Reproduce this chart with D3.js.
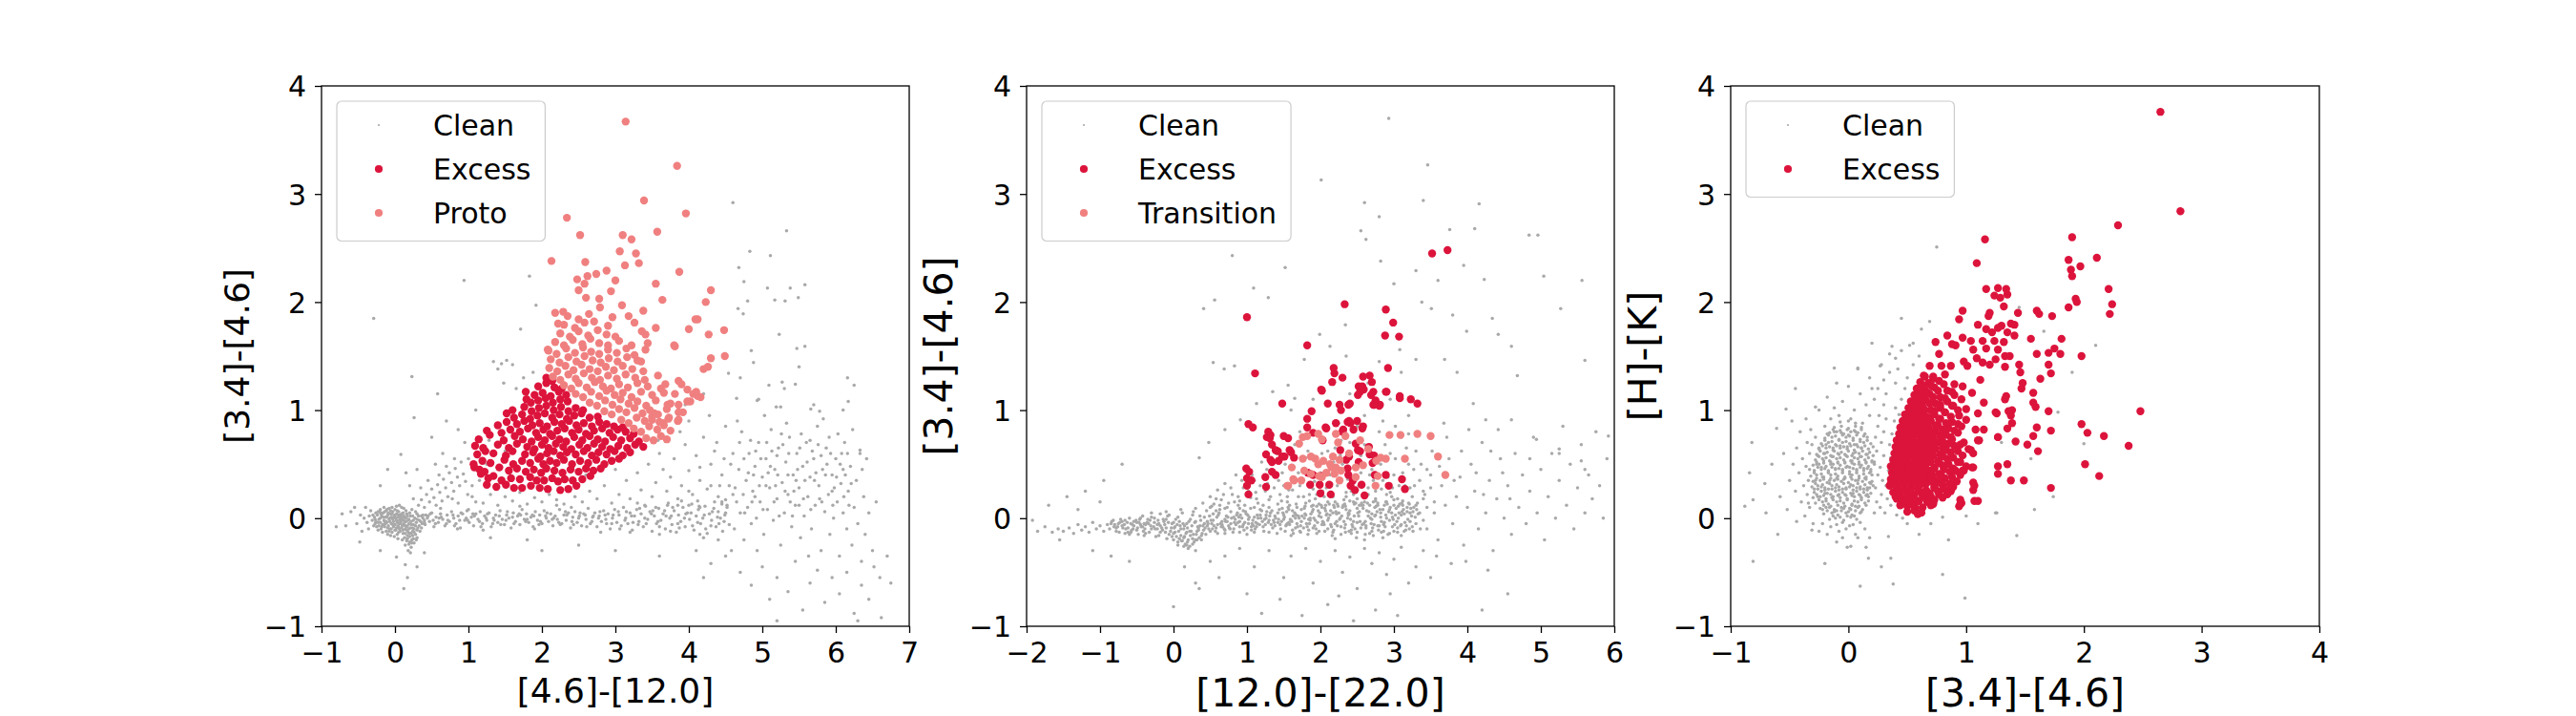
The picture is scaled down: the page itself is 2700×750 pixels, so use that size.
<!DOCTYPE html>
<html><head><meta charset="utf-8">
<script src="https://cdn.jsdelivr.net/npm/d3@7"></script>
<style>body{margin:0;background:#fff}svg{display:block}</style>
</head><body><svg id="c" width="2700" height="750"></svg>
<script>
// ---------- tick labels ----------
const p1XTicks=[-1,0,1,2,3,4,5,6,7];
const p2XTicks=[-2,-1,0,1,2,3,4,5,6];
const p3XTicks=[-1,0,1,2,3,4];
const yTicks=[-1,0,1,2,3,4];
const labels1={x:"[4.6]-[12.0]",y:"[3.4]-[4.6]"};
const labels2={x:"[12.0]-[22.0]",y:"[3.4]-[4.6]"};
const labels3={x:"[3.4]-[4.6]",y:"[H]-[K]"};
const names1=["Clean","Excess","Proto"];
const names2=["Clean","Excess","Transition"];
const names3=["Clean","Excess"];

// ---------- panel 1 data (x,y pairs) ----------
const p1Clean=[
-.31,-.02,-.28,.01,-.27,-.05,-.25,-.08,-.24,.03,-.22,-.01,-.21,.06,-.2,-.04,-.19,-.1,-.18,.02,-.17,-.06,-.16,.05,-.15,-.02,-.14,-.08,-.13,.01,-.12,-.12,-.12,.07,-.11,-.04,-.1,.03,-.09,-.07,-.08,-.01,-.08,.09,-.07,-.1,-.06,.04,-.05,-.05,-.05,.01,-.04,-.13,-.03,.06,-.02,-.03,-.02,-.08,-.01,.02,0,-.06,0,.08,.01,-.11,.01,0,.02,.04,.03,-.04,.03,-.15,.04,.01,.05,-.08,.05,.06,.06,-.02,.07,-.12,.07,.03,.08,-.05,.09,.1,.09,-.09,.1,-.01,.11,-.14,.11,.05,.12,-.06,.13,-.18,.13,.01,.14,-.1,.15,-.03,.15,.07,.16,-.21,.17,-.07,.17,.02,.18,-.13,.19,-.24,.19,-.01,.2,-.17,.2,.05,.21,-.09,.22,-.27,.22,-.03,.23,-.2,.24,.02,.24,-.12,.25,-.06,.26,-.23,.27,0,.28,-.15,.29,-.04,.3,.04,.31,-.09,.33,-.02,.34,-.12,.36,.02,.37,-.05,
-.29,-.07,-.26,.05,-.23,-.11,-.2,.08,-.17,-.13,-.15,.1,-.13,-.05,-.1,-.15,-.06,-.16,-.04,.1,-.01,-.17,.02,.11,.04,-.19,.06,.12,.08,.02,.1,-.2,.12,.09,.14,-.25,.16,.04,.18,-.3,.21,-.32,.23,.08,.26,-.1,.28,.06,.3,-.18,-.35,.02,-.38,-.04,-.33,.07,-.36,-.1,-.42,0,-.47,.03,-.52,-.05,-.6,.06,-.72,.04,-.67,-.07,-.45,-.12,-.4,.1,-.55,.1,-.8,-.08,
-.27,-.01,-.23,-.04,-.19,.04,-.14,-.03,-.11,.01,-.07,-.03,-.03,-.06,0,.03,.02,-.09,.06,-.05,.09,0,.12,-.02,.14,-.07,.16,-.11,.19,-.05,.22,-.14,.25,-.19,.2,-.22,.17,-.16,.24,-.09,.3,-.01,
-.3,.03,-.26,-.03,-.23,.06,-.2,0,-.18,-.08,-.16,.01,-.14,.06,-.12,-.03,-.1,-.09,-.09,.05,-.07,0,-.05,-.1,-.04,.04,-.03,-.01,-.01,-.06,0,.01,.02,-.02,.03,.07,.04,-.07,.06,-.1,.07,0,.08,-.03,.09,.04,.1,-.07,.11,-.11,.12,.02,.13,-.04,.14,-.14,.15,0,.16,-.08,.17,-.19,.18,-.02,.19,-.1,.2,-.14,.21,.02,.22,-.06,.23,-.23,.24,-.16,.25,-.02,.26,-.13,.28,-.07,.29,-.2,.3,-.11,.32,.02,.33,-.07,.35,-.03,.36,-.09,.38,0,.4,-.04,.42,.03,-.22,-.07,-.19,.05,-.15,-.06,-.11,.08,-.08,-.12,-.06,.07,-.02,0,0,-.11,.05,-.13,.05,.03,
.3,-.45,.17,-.55,.14,-.43,.02,-.36,-.2,-.3,.4,-.32,.12,-.65,-.48,-.22,
.38,.03,.41,-.06,.44,0,.47,-.03,.5,.05,.53,-.08,.56,.01,.59,-.04,.62,.04,.65,-.01,.68,-.07,.71,.03,.74,-.03,.77,.06,.8,0,.83,-.05,.86,.02,.89,-.09,.92,.04,.95,-.02,.98,.07,1.01,-.04,1.04,.01,1.07,-.07,1.1,.04,1.13,-.01,1.16,.06,1.19,-.05,1.22,.02,1.25,-.02,1.28,.05,1.31,-.08,1.34,0,1.37,.03,1.4,-.04,1.43,.07,1.46,-.01,1.49,-.06,1.52,.03,1.55,0,1.58,-.09,1.61,.05,1.64,-.03,1.67,.02,1.7,-.06,1.73,.08,1.76,-.01,1.79,.04,1.82,-.04,1.85,.01,1.88,-.08,1.91,.06,1.94,-.02,1.97,.03,2,-.05,2.03,.07,2.06,0,2.09,-.03,2.12,.04,2.15,-.07,2.18,.02,2.21,-.01,2.24,.08,2.27,-.05,2.3,.03,2.33,-.02,2.36,.05,2.39,-.09,2.42,.01,2.45,.06,2.48,-.04,2.51,.02,2.54,-.07,2.57,.04,2.6,-.01,2.63,.09,2.66,-.05,2.69,.01,2.72,.05,2.75,-.08,2.78,.02,2.81,-.03,2.84,.07,2.87,-.01,2.9,.04,2.93,-.1,2.96,0,2.99,.08,3.02,-.04,3.05,.03,3.08,-.07,3.11,.1,3.14,0,3.17,-.05,3.2,.05,3.23,-.11,3.26,.02,3.29,.08,3.32,-.03,3.35,.04,3.38,-.08,3.41,.11,3.44,-.01,3.47,.06,3.5,-.12,3.53,.02,3.56,-.05,3.59,.09,3.62,-.02,3.65,.04,3.68,-.1,3.71,.12,3.74,0,3.77,-.06,3.8,.07,3.83,-.13,3.86,.03,3.89,-.03,3.92,.1,3.95,-.08,3.98,.05,4.01,-.01,4.04,.13,4.07,-.11,4.1,.02,4.13,.08,4.16,-.05,4.19,0,4.22,.11,4.25,-.14,4.28,.04,4.31,-.02,4.34,.09,4.37,-.08,4.4,.06,4.43,0,4.46,-.12,4.49,.03,4.52,.1,4.55,-.06,
.45,.02,.52,-.02,.6,0,.7,-.05,.79,.03,.88,-.02,.97,0,1.06,.04,1.15,-.03,1.24,0,1.33,-.05,1.42,.02,1.51,-.02,1.6,.01,1.69,.04,1.78,-.03,1.87,.03,1.96,-.06,2.05,.02,2.14,-.01,2.23,-.04,2.32,.06,2.41,-.03,2.5,0,2.59,.03,2.68,-.03,2.77,0,2.86,.03,2.95,-.05,3.04,.06,3.13,-.02,3.22,.02,3.31,-.06,3.4,0,3.49,.04,3.58,-.03,3.67,.07,3.76,.02,3.85,-.05,3.94,0,4.03,.05,4.12,-.04,4.21,.03,4.3,-.07,4.39,.01,4.48,-.03,3.6,-.15,3.9,.16,4.2,-.18,4.35,.15,3.3,.14,2.8,-.13,2.2,.12,1.7,.11,1.2,-.11,4.5,.17,4.4,-.2,
.4,-.02,.48,.04,.55,-.05,.63,.01,.72,-.02,.81,-.07,.9,.05,.99,-.02,1.08,.02,1.17,-.08,1.26,.04,1.35,-.02,1.44,-.06,1.53,.06,1.62,-.05,1.71,.03,1.8,-.01,1.89,.02,1.98,-.03,2.07,.05,2.16,0,2.25,-.06,2.34,.03,2.43,-.06,2.52,.05,2.61,-.08,2.7,.02,2.79,.06,2.88,-.05,2.97,.03,3.06,-.1,3.15,.06,3.24,-.04,3.33,.09,3.42,-.05,3.51,.07,3.6,-.08,3.69,.02,3.78,.1,3.87,-.09,3.96,.04,4.05,-.07,4.14,.11,4.23,-.1,4.32,.06,4.41,-.05,4.5,.05,3.55,.1,3.75,-.12,4,.12,4.15,-.15,4.45,.13,3.2,-.13,2.4,.1,1.9,-.1,1,.08,.85,-.1,
.32,.12,.36,.17,.4,.1,.43,.22,.47,.15,.5,.27,.53,.19,.56,.12,.58,.31,.61,.24,.64,.16,.66,.36,.69,.28,.72,.2,.74,.42,.77,.33,.8,.25,.82,.46,.85,.38,.88,.3,.9,.52,.93,.41,.96,.34,.99,.22,.81,.55,.7,.48,.6,.4,.45,.35,.35,.28,.25,.18,.2,.3,.55,.5,.3,.45,.15,.42,.65,.6,.78,.18,.62,.09,.86,.14,1.05,.3,1.1,.15,
1.05,.2,1.15,.35,1.2,.14,1.3,.22,1.4,.12,1.5,.2,1.6,.16,1.7,.24,1.8,.13,1.9,.19,2,.15,2.1,.22,2.2,.17,2.3,.13,2.45,.2,2.55,.15,2.65,.25,2.75,.18,2.85,.3,2.95,.14,3.05,.22,3.15,.35,3.2,.18,3.3,.42,3.35,.26,3.45,.5,3.5,.2,3.55,.33,3.6,.6,3.65,.45,3.7,.25,3.75,.38,3.8,.55,3.85,.18,3.9,.3,3.95,.68,4,.44,4.05,.22,4.1,.58,4.15,.35,4.2,.75,4.25,.27,4.3,.5,4.35,.62,4.4,.2,4.45,.4,4.5,.85,3.4,.12,3,.45,2.6,.4,3.72,.14,4,.9,4.12,.16,3.58,.72,3.88,.8,4.28,.95,4.42,.3,4.38,.7,3.1,.6,2.2,.45,1,.55,1.25,.5,.95,.7,1.5,.62,3.35,.78,3.95,1.05,4.2,1.15,4.15,.47,4.48,.55,
4.55,.3,4.6,.6,4.62,-.1,4.65,.15,4.68,.45,4.7,.05,4.72,.8,4.75,-.2,4.78,.35,4.8,.1,4.82,.6,4.85,-.05,4.87,.25,4.9,.48,4.92,0,4.95,.7,4.97,.15,5,.38,5.02,-.15,5.05,.55,5.07,.08,5.1,.28,5.12,.82,5.15,-.02,5.17,.45,5.2,.18,5.22,.65,5.25,-.25,5.27,.33,5.3,.05,5.32,.52,5.35,.22,5.37,.75,5.4,-.08,5.42,.4,5.45,.12,5.47,.6,5.5,.28,5.52,-.18,5.55,.48,5.57,.02,5.6,.7,5.62,.2,5.65,.38,5.67,-.1,5.7,.55,5.72,.12,5.75,.85,5.77,.3,5.8,-.3,5.82,.45,5.85,.06,5.87,.65,5.9,.22,5.92,-.15,5.95,.4,5.97,0,6,.55,6.02,.15,6.05,-.35,6.07,.32,6.1,.05,6.12,.7,6.15,-.1,6.17,.25,6.2,.48,6.22,-.25,6.25,.1,6.28,.35,6.3,-.05,6.33,.6,6.35,-.4,6.38,.2,6.4,-.15,6.45,.05,6.5,-.3,6.55,.15,6.6,-.55,6.7,-.35,4.58,-.3,4.66,.9,4.74,.22,4.84,.72,4.93,-.3,5.03,.95,5.13,.62,5.23,.02,5.33,.88,5.43,.25,5.53,.78,5.63,-.35,5.73,.42,5.83,.92,5.93,.6,6.03,.78,6.13,.4,6.23,.82,6.36,.45,6.42,.55,4.88,.4,4.98,.55,5.08,.42,5.18,.3,5.28,.68,5.38,.15,5.48,.45,5.58,.35,5.68,.62,5.78,.18,5.88,.5,5.98,.28,6.08,.6,6.18,.12,4.95,1.1,5.3,1.2,5.7,1.05,4.7,1.3,6.1,1,4.85,1.55,5.5,1.4,
4.52,.12,4.57,.5,4.63,.28,4.69,.7,4.76,.05,4.81,.42,4.86,.15,4.91,.62,4.96,.3,5.01,.08,5.06,.7,5.11,.48,5.16,.15,5.21,.4,5.26,.78,5.31,.25,5.36,.6,5.41,.02,5.46,.35,5.51,.65,5.56,.18,5.61,.52,5.66,.08,5.71,.35,5.76,.68,5.81,.15,5.86,.4,5.91,.75,5.96,.12,6.01,.38,6.06,.5,6.11,.2,6.16,.6,6.21,.32,4.6,.22,4.75,.55,4.9,.2,5.05,.3,5.2,.58,5.35,.4,5.5,.12,5.65,.72,5.8,.58,5.95,.25,6.1,.45,4.45,.15,4.3,.3,4.15,.1,4,.25,3.85,.12,
4.1,-.3,4.3,-.42,4.5,-.35,4.7,-.5,4.85,-.62,5,-.45,5.1,-.75,5.2,-.55,5.35,-.68,5.45,-.4,5.55,-.85,5.65,-.6,5.75,-.48,5.85,-.78,5.95,-.55,6.05,-.7,6.15,-.5,6.25,-.88,6.35,-.62,6.45,-.75,6.52,-.45,6.62,-.92,6.75,-.6,4.2,-.55,3.6,-.35,3,-.3,2.5,-.25,1.8,-.2,1.3,-.18,2,-.3,5.2,-.95,6.3,-.95,
.94,2.2,1.83,2.24,-.29,1.85,1.92,1.97,1.71,1.75,.23,1.31,.58,1.15,1.34,1.45,1.45,1.43,1.52,1.46,1.4,1.38,1.6,1.42,1.48,1.25,1.75,1.3,1.65,1.2,1.88,1.35,4.6,2.92,5.33,2.66,4.83,2.47,5.11,2.43,4.68,2.32,4.75,2.19,5.07,2.13,5.38,2.13,5.58,2.16,4.8,2.01,5.17,2.02,5.31,2.01,5.49,2.04,4.67,1.94,4.74,1.89,5.23,1.7,5.47,1.57,5.58,1.59,4.88,1.44,4.54,1.34,5.09,1.23,5.27,1.26,5.45,1.24,6.16,1.3,6.25,1.23,4.65,1.11,4.93,1.09,5.19,1.03,5.25,1.03,5.66,1.01,5.78,.99,6.17,1.08,6.33,.63,.26,.93,.08,.59,.7,.9,.86,.82,1.1,1,-.1,.45,-.2,.3,1.28,.72,.5,.75
];
const p1Excess=[
1.25,.31,1.38,.29,1.51,.31,1.62,.28,1.73,.28,1.85,.3,1.97,.28,2.08,.27,2.25,.26,2.36,.27,2.47,.3,
1.17,.41,1.27,.37,1.34,.39,1.45,.35,1.58,.37,1.7,.36,1.84,.38,1.93,.35,2.03,.35,2.14,.37,2.22,.34,2.31,.36,2.42,.35,2.55,.36,2.66,.39,
1.08,.47,1.15,.45,1.22,.43,1.42,.47,1.55,.44,1.66,.46,1.78,.43,1.89,.45,1.99,.42,2.06,.46,2.17,.44,2.28,.42,2.39,.45,2.5,.43,2.6,.46,2.7,.44,2.8,.46,
1.07,.5,1.19,.53,1.3,.51,1.49,.54,1.61,.5,1.73,.53,1.84,.51,1.95,.55,2.02,.5,2.11,.53,2.2,.51,2.3,.54,2.41,.5,2.52,.53,2.63,.51,2.74,.54,2.85,.5,2.95,.53,3.05,.55,
1.12,.59,1.23,.62,1.34,.6,1.51,.58,1.6,.62,1.77,.59,1.88,.61,1.98,.57,2.07,.6,2.16,.62,2.25,.58,2.34,.61,2.46,.59,2.57,.62,2.68,.58,2.77,.61,2.88,.59,2.99,.62,3.1,.58,3.2,.61,
1.09,.67,1.2,.65,1.4,.68,1.55,.65,1.66,.69,1.8,.66,1.9,.64,2,.68,2.09,.65,2.19,.69,2.29,.66,2.4,.64,2.51,.68,2.62,.65,2.71,.69,2.82,.66,2.93,.64,3.04,.67,3.16,.65,3.27,.68,3.38,.66,
1.14,.73,1.29,.77,1.48,.72,1.63,.76,1.74,.73,1.86,.71,1.95,.75,2.04,.72,2.14,.76,2.24,.73,2.33,.71,2.44,.75,2.55,.72,2.65,.76,2.76,.73,2.86,.71,2.97,.75,3.08,.72,3.2,.74,3.32,.71,
1.25,.81,1.45,.79,1.57,.82,1.7,.8,1.81,.83,1.92,.79,2.02,.82,2.11,.78,2.21,.81,2.31,.83,2.41,.79,2.5,.82,2.6,.78,2.71,.81,2.82,.83,2.92,.79,3.03,.82,3.14,.8,3.25,.78,
1.4,.86,1.52,.89,1.66,.87,1.76,.9,1.87,.86,1.97,.88,2.07,.85,2.17,.89,2.27,.87,2.37,.9,2.47,.86,2.57,.88,2.68,.85,2.78,.89,2.88,.87,2.98,.85,3.1,.84,
1.52,.97,1.62,.93,1.73,.96,1.84,.92,1.94,.95,2.04,.97,2.14,.93,2.24,.96,2.34,.92,2.44,.95,2.54,.97,2.65,.93,2.76,.94,
1.6,1,1.76,1.03,1.86,.99,1.96,1.02,2.06,1.04,2.16,1,2.26,1.03,2.36,.99,2.46,1.02,2.56,1,
1.79,1.1,1.85,1.07,1.95,1.09,2.05,1.11,2.15,1.07,2.25,1.1,2.35,1.08,
1.78,1.17,1.9,1.14,2.01,1.16,2.12,1.13,2.23,1.17,2.33,1.14,
1.95,1.22,2.06,1.25,2.17,1.21,2.27,1.2,2.06,1.3,2.14,1.27
];
const p1Proto=[
3.42,.74,3.52,.72,3.62,.76,3.7,.73,
3.25,.83,3.35,.8,3.46,.85,3.57,.82,3.66,.86,3.75,.81,
3.08,.91,3.18,.88,3.29,.93,3.4,.9,3.5,.94,3.6,.89,3.72,.92,3.85,.9,
2.85,.99,2.95,.96,3.05,1.01,3.15,.98,3.26,1.02,3.37,.97,3.47,1,3.58,.96,3.7,1.01,3.92,.98,
2.65,1.07,2.75,1.04,2.86,1.09,2.96,1.05,3.07,1.1,3.18,1.06,3.3,1.08,3.42,1.04,3.55,1.09,3.75,1.06,4.02,1.08,
2.46,1.15,2.56,1.12,2.67,1.17,2.78,1.13,2.88,1.18,2.99,1.14,3.1,1.16,3.22,1.12,3.35,1.17,3.5,1.14,3.66,1.16,4.12,1.13,
2.3,1.23,2.4,1.2,2.5,1.25,2.61,1.21,2.72,1.26,2.83,1.22,2.94,1.2,3.05,1.24,3.17,1.21,3.3,1.25,3.44,1.22,3.62,1.2,3.9,1.24,
2.15,1.31,2.25,1.28,2.36,1.33,2.46,1.29,2.57,1.34,2.68,1.3,2.79,1.28,2.9,1.32,3.02,1.29,3.14,1.33,3.27,1.3,3.4,1.28,3.58,1.32,
2.1,1.39,2.21,1.36,2.32,1.41,2.43,1.37,2.54,1.42,2.65,1.38,2.76,1.36,2.87,1.4,2.98,1.37,3.1,1.41,3.23,1.38,3.38,1.36,
2.12,1.47,2.24,1.44,2.36,1.49,2.47,1.45,2.58,1.5,2.69,1.46,2.8,1.44,2.91,1.48,3.03,1.45,3.16,1.49,3.3,1.46,
2.09,1.55,2.2,1.52,2.33,1.57,2.45,1.53,2.56,1.58,2.67,1.54,2.78,1.52,2.9,1.56,3.02,1.53,3.15,1.57,
2.18,1.63,2.3,1.6,2.42,1.65,2.55,1.61,2.66,1.66,2.78,1.62,2.9,1.6,3.05,1.64,
2.25,1.71,2.38,1.68,2.5,1.73,2.63,1.69,2.76,1.74,2.88,1.7,3,1.68,
2.3,1.79,2.45,1.76,2.58,1.81,2.9,1.78,2.35,1.87,2.5,1.84,2.64,1.89,2.96,1.86,
3.14,3.67,3.84,3.26,3.39,2.94,2.34,2.78,3.96,2.82,2.52,2.62,3.1,2.62,3.22,2.58,3.57,2.65,3.06,2.47,3.28,2.45,3.32,2.36,3.13,2.34,2.13,2.38,2.59,2.37,2.88,2.29,2.48,2.21,2.62,2.24,2.74,2.26,3,2.2,2.58,2.17,2.5,2.11,2.94,2.1,2.6,2.04,2.78,2.03,3.55,2.17,3.87,2.28,3.64,2.02,3.09,1.97,2.79,1.95,3.38,1.92,2.18,1.9,2.29,1.91,3.18,1.87,3.26,1.81,2.22,1.8,2.71,1.82,3.55,1.76,4.09,1.84,4,1.75,3.8,1.6,3.36,1.73,3.41,1.7,4.3,2.11,4.23,2,4.12,1.84,4.27,1.7,4.48,1.74,3.81,1.59,3.44,1.62,3.41,1.56,3.22,1.6,4.3,1.48,4.49,1.5,3.26,1.51,3.35,1.45,4.2,1.38,4.26,1.4,3.68,1.24,3.86,1.27,3.98,1.19,4.1,1.17,4.16,1.12,3.81,1.15,3.71,1.05,3.86,1.05,3.86,.98,3.86,.91,3.65,.88,3.53,.97,3.5,.91,3.73,.93,3.98,1.08,4.06,1.15,2.08,1.56
];

// ---------- panel 2 data ----------
const p2Clean=[
-.9,-.06,-.87,-.1,-.84,-.03,-.81,-.08,-.78,-.12,-.75,-.05,-.72,-.01,-.69,-.09,-.66,-.14,-.63,-.04,-.6,0,-.57,-.11,-.54,-.07,-.51,-.02,-.48,-.15,-.45,-.06,-.42,.02,-.39,-.1,-.36,-.04,-.33,-.13,-.3,.01,-.27,-.08,-.24,-.17,-.21,-.02,-.18,.04,-.15,-.11,-.12,-.06,-.09,-.19,-.06,.03,-.03,-.09,0,-.14,.03,-.01,.06,-.22,.09,-.07,.12,.05,.15,-.17,.18,-.25,.21,-.03,.24,-.12,.27,.06,.3,-.2,.33,-.08,.36,.02,.39,-.14,.42,-.05,.45,.07,.48,-.1,.51,-.02,.54,.04,.57,-.12,.6,-.06,.63,.08,.66,-.03,.69,-.1,.72,.02,.75,-.07,.78,.06,.81,-.13,.84,-.01,.87,.05,.9,-.08,.93,0,.96,-.11,.99,.04,1.02,-.05,1.05,.09,1.08,-.02,1.11,-.1,1.14,.03,1.17,-.06,1.2,.07,1.23,-.12,1.26,0,1.29,-.04,1.32,.05,1.35,-.09,1.38,.02,1.41,-.14,1.44,.08,1.47,-.03,1.5,.03,1.53,-.07,1.56,.1,1.59,-.01,1.62,-.11,1.65,.05,1.68,-.05,1.71,0,1.74,.08,1.77,-.09,1.8,.03,1.83,-.15,1.86,-.02,1.89,.06,1.92,-.07,1.95,.11,1.98,-.12,2.01,.01,2.04,-.04,2.07,.07,2.1,-.1,2.13,.03,2.16,-.16,2.19,.1,2.22,-.03,2.25,.05,2.28,-.08,2.31,.12,2.34,-.13,2.37,0,2.4,.07,2.43,-.06,2.46,.13,2.49,-.18,2.52,.02,2.55,-.09,2.58,.09,2.61,-.03,2.64,.14,2.67,-.14,2.7,.04,2.73,-.06,2.76,.11,2.79,-.11,2.82,.01,2.85,.08,2.88,-.08,2.91,.13,2.94,-.02,2.97,.05,3,-.12,3.03,.09,3.06,0,3.09,-.07,3.12,.12,3.15,-.04,3.18,.06,3.21,-.1,3.24,.02,3.27,.1,3.3,-.05,
-.85,-.05,-.76,-.08,-.67,-.06,-.58,-.05,-.49,-.09,-.4,-.05,-.31,-.07,-.22,-.1,-.13,-.03,-.04,-.12,.05,-.06,.1,-.16,.14,-.1,.2,-.2,.25,-.07,.31,-.15,.37,-.02,.43,-.09,.49,.02,.55,-.07,.61,.03,.67,-.08,.73,-.03,.79,0,.85,-.06,.91,.03,.97,-.04,1.03,.01,1.09,-.07,1.15,0,1.21,-.03,1.27,.06,1.33,-.06,1.39,0,1.45,-.06,1.51,.01,1.57,-.04,1.63,.02,1.69,-.08,1.75,.02,1.81,-.05,1.87,.04,1.93,-.02,1.99,.05,2.05,-.06,2.11,0,2.17,.05,2.23,-.07,2.29,.02,2.35,.08,2.41,-.01,2.47,-.1,2.53,.06,2.59,-.05,2.65,.02,2.71,-.09,2.77,.06,2.83,-.03,2.89,.03,2.95,.1,3.01,-.06,3.07,.05,3.13,.08,3.19,-.01,3.25,-.08,3.33,.04,3.4,-.02,3.45,.1,.16,-.24,.22,-.26,.08,-.19,.28,-.22,-.02,-.17,.35,-.18,.12,-.21,2.6,-.2,2.85,-.18,2.2,-.19,1.6,-.16,1,-.15,.6,-.14,3.1,-.16,2.4,.16,2.75,.18,3,.17,2.1,.15,1.8,.14,
-.7,-.03,-.55,-.1,-.35,-.01,-.18,-.07,0,-.04,.18,-.13,.34,-.11,.52,-.05,.7,-.01,.88,-.04,1.06,-.08,1.24,-.01,1.42,-.04,1.6,-.02,1.78,0,1.96,-.04,2.14,-.06,2.32,-.03,2.5,-.04,2.68,0,2.86,-.06,3.04,-.03,3.22,.05,2.56,.12,2.92,-.15,2.42,-.14,2.02,.1,1.72,-.12,1.3,.1,.95,.07,.58,.07,.26,.03,-.08,.02,-.45,0,-.62,-.13,1.48,.09,2.24,.11,2.7,-.12,3.14,-.12,3.36,-.1,
-.5,-.04,-.44,-.08,-.38,-.06,-.26,-.04,-.16,-.09,-.1,-.01,.02,-.08,.07,-.12,.13,-.05,.19,-.09,.23,-.16,.29,-.04,.4,-.07,.46,-.03,.64,-.05,.76,-.09,.82,.01,1,-.09,1.12,-.04,1.18,.03,1.36,-.02,1.54,-.06,1.66,0,1.84,-.01,1.9,-.09,2.08,.03,2.2,-.05,2.38,.03,2.44,-.08,2.62,-.07,2.74,.02,2.8,-.07,2.98,.01,3.1,.03,
-.82,-.02,-.78,-.09,-.74,-.13,-.7,-.07,-.66,-.02,-.62,-.09,-.58,-.13,-.54,-.03,-.5,-.11,-.46,-.01,-.42,-.08,-.38,-.14,-.34,-.05,-.3,-.1,-.26,0,-.22,-.06,-.18,-.13,-.14,-.01,-.1,-.09,-.06,-.15,-.02,-.05,.02,-.13,.06,.01,.1,-.1,.14,-.18,.18,-.05,.22,-.12,.26,-.19,.3,-.03,.34,-.09,.38,-.16,.42,.01,.46,-.07,.5,-.12,.54,-.02,.58,-.09,.62,.05,.66,-.06,.7,-.11,.74,.01,.78,-.05,.82,-.1,.86,.03,.9,-.03,.94,-.08,.98,.06,1.02,-.01,1.06,-.11,1.1,.01,1.14,-.05,1.18,.08,1.22,-.08,1.26,.03,1.3,-.02,1.34,.07,1.38,-.07,1.42,.05,1.46,-.1,1.5,-.01,1.54,.06,1.58,-.06,1.62,.07,1.66,-.09,1.7,.02,1.74,-.03,1.78,.09,1.82,-.08,1.86,0,1.9,.08,1.94,-.1,1.98,.02,2.02,-.06,2.06,.09,2.1,-.02,2.14,.07,2.18,-.11,2.22,.04,2.26,-.01,2.3,.1,2.34,-.06,2.38,.05,2.42,-.11,2.46,.02,2.5,.09,2.54,-.03,2.58,.12,2.62,-.09,2.66,.06,2.7,-.01,2.74,.1,2.78,-.07,2.82,.05,2.86,-.12,2.9,0,2.94,.08,2.98,-.08,3.02,.03,3.06,.11,3.1,-.06,3.14,.04,3.18,.1,3.22,-.03,3.26,.06,3.3,.12,
-.8,-.06,-.73,-.04,-.65,-.1,-.56,-.06,-.47,-.04,-.41,-.12,-.32,-.02,-.25,-.1,-.2,-.05,-.11,-.13,-.07,-.04,.01,-.09,.04,-.17,.08,-.03,.11,-.21,.15,-.07,.17,-.14,.19,-.22,.23,-.01,.27,-.15,.32,-.12,.36,-.07,.41,-.11,.47,-.05,.53,-.1,.59,.01,.65,-.08,.71,-.03,.77,-.1,.83,-.04,.89,.01,.95,-.06,1.01,.03,1.07,-.05,1.13,-.08,1.19,0,1.25,-.06,1.31,.02,1.37,-.04,1.43,-.01,1.49,.05,1.55,-.05,1.61,-.03,1.67,.03,1.73,-.07,1.79,.04,1.85,-.05,1.91,0,1.97,.07,2.03,-.03,2.09,.04,2.15,-.08,2.21,.06,2.27,0,2.33,-.09,2.39,.04,2.45,-.03,2.51,.05,2.57,-.06,2.63,.07,2.69,-.05,2.75,.03,2.81,.08,2.87,-.04,2.93,.06,2.99,-.01,3.05,-.09,3.11,.06,3.17,-.07,3.23,.09,3.29,.01,
1.52,-.12,1.57,.08,1.63,-.14,1.68,.1,1.73,-.13,1.79,.11,1.84,-.11,1.9,.12,1.95,-.14,2.01,.12,2.06,-.12,2.12,.13,2.17,-.13,2.23,.13,2.28,-.15,2.34,.11,2.39,-.12,2.45,.15,2.5,-.13,2.56,.14,2.61,-.15,2.67,.12,2.72,-.16,2.78,.14,2.83,-.13,2.89,.15,2.94,-.14,3,.12,3.05,-.13,3.11,.14,3.16,-.11,3.21,.13,3.26,-.12,3.31,.08,-.6,-.15,-.4,-.16,-.2,-.16,0,-.2,.06,-.25,.14,-.26,.2,-.28,.26,-.24,.32,-.2,.38,-.2,.44,-.15,-.3,.05,-.1,.06,.1,.08,.3,.09,.5,.1,.7,.09,.9,.09,1.1,.1,1.3,-.13,1.1,-.13,.9,-.13,.7,-.14,
-.95,-.12,-1,-.07,-1.05,-.1,-1.1,-.04,-1.15,-.13,-1.2,-.08,-1.25,-.11,-1.3,-.06,-1.36,-.14,-1.42,-.09,-1.5,-.12,-1.57,-.1,-1.65,-.13,-1.75,-.08,-1.85,-.12,-1.3,.08,-1.55,-.2,-1.7,.12,-1.92,-.02,-1.2,.25,-1.45,.2,-1,.15,-.95,.35,-.7,.5,-1.1,-.3,-.85,-.35,
.4,.14,.5,.2,.55,.13,.6,.26,.65,.17,.7,.32,.75,.14,.8,.22,.85,.4,.9,.16,.95,.28,1,.46,1.05,.19,1.1,.35,1.15,.14,1.2,.52,1.25,.25,1.3,.17,1.35,.4,1.4,.6,1.45,.22,1.5,.3,1.55,.15,1.6,.48,1.65,.68,1.7,.2,1.75,.36,1.8,.56,1.85,.16,1.9,.27,1.95,.78,2,.42,2.05,.2,2.1,.62,2.15,.32,2.2,.15,2.25,.88,2.3,.5,2.35,.24,2.4,.7,2.45,.38,2.5,.18,2.55,.58,2.6,.95,2.65,.28,2.7,.45,2.75,.16,2.8,.8,2.85,.35,2.9,.22,2.95,.6,3,.4,3.05,.18,3.1,.75,3.15,.3,3.2,.5,3.25,.2,3.3,.62,3.35,.35,3.4,.18,3.45,.45,3.5,.28,3.55,.15,1.12,.24,1.28,.32,1.48,.42,1.62,.26,1.78,.45,1.92,.34,2.08,.28,2.22,.4,2.38,.55,2.52,.3,2.68,.62,2.82,.5,2.98,.28,3.12,.42,3.28,.3,2.15,.22,2.45,.22,2.75,.25,1.85,.22,1.55,.2,2.6,.15,2.9,.15,3.2,.14,.88,.12,1.42,.13,1.98,.13,2.33,.13,2.55,.42,2.72,.35,2.4,.32,2.18,.52,2.02,.6,2.88,.68,3.02,.85,2.5,.85,2.28,.72,1.72,.8,2.12,1.05,2.4,1.15,2.65,1.25,2.95,1.1,3.2,.95,1.9,1.1,2.8,1.45,2.35,1.5,3.1,1.35,1.6,1,
.52,.11,.58,.18,.63,.12,.68,.22,.73,.1,.78,.28,.83,.15,.88,.2,.93,.35,.97,.12,1.02,.25,1.07,.4,1.13,.18,1.18,.3,1.22,.12,1.27,.45,1.32,.2,1.37,.28,1.43,.35,1.47,.16,1.52,.5,1.57,.26,1.63,.38,1.67,.13,1.72,.3,1.77,.2,1.83,.62,1.87,.33,1.93,.18,1.97,.48,2.03,.25,2.07,.12,2.13,.4,2.17,.2,2.23,.3,2.27,.58,2.32,.17,2.37,.36,2.42,.25,2.47,.48,2.53,.12,2.57,.3,2.62,.2,2.67,.4,2.72,.15,2.77,.52,2.83,.27,2.87,.12,2.92,.38,2.97,.2,3.02,.55,3.07,.3,3.12,.16,3.17,.65,3.22,.28,3.27,.45,3.32,.14,3.37,.5,3.42,.22,1.58,.12,1.88,.11,2.18,.12,2.48,.14,2.78,.12,3.08,.13,2.35,.2,2.65,.22,2.95,.24,1.95,.22,1.7,.42,2.6,.68,2.85,.9,3.2,.78,2.2,.65,
3.35,.05,3.4,.25,3.45,-.1,3.5,.4,3.55,.05,3.6,-.2,3.65,.3,3.7,.12,3.75,.55,3.8,-.05,3.85,.2,3.9,.38,3.95,-.25,4,.1,4.05,.5,4.1,.25,4.15,-.1,4.2,.7,4.25,.05,4.3,.35,4.35,-.3,4.4,.18,4.45,.55,4.5,0,4.55,.3,4.6,-.15,4.65,.6,4.7,.1,4.75,.4,4.8,-.05,4.85,.25,4.9,.75,4.95,.05,5,.45,5.05,-.2,5.1,.2,5.15,.6,5.2,0,5.25,.35,5.3,.85,5.35,.12,5.4,.5,5.45,-.1,5.5,.28,5.55,.68,5.6,.05,5.65,.4,5.7,.18,5.75,.8,5.8,.3,5.85,0,3.52,.62,3.62,.48,3.72,.75,3.82,.35,3.92,.62,4.02,.82,4.12,.42,4.22,.22,4.32,.62,3.58,-.35,3.78,-.42,3.98,-.4,4.28,-.48,3.68,.88,4.48,.42,4.58,.18,4.85,.55,5.25,.6,5.6,.45,5.9,.55,
.3,-.3,.5,-.4,.3,-.6,.35,-.65,.7,-.35,.9,-.28,1.1,-.45,1.3,-.3,1.5,-.55,1.6,-.35,1.8,-.28,1.9,-.6,2,-.4,2.1,-.8,2.2,-.3,2.3,-.5,2.4,-.36,2.5,-.65,2.6,-.28,2.7,-.42,2.75,-.85,2.8,-.32,2.9,-.52,3,-.38,3.1,-.27,3.2,-.6,3.3,-.45,3.4,-.3,0,-.82,1.2,-.88,1.75,-.9,2.45,-.95,3.05,-.9,1,-.7,1.45,-.75,2.25,-.72,2.95,-.7,.15,-.45,.62,-.55,3.5,-.55,4.2,-.85,4.55,-.7,-.6,-.4,
3.46,3.27,2.01,3.13,3.4,2.94,2.6,2.92,2.8,2.79,4.1,2.68,4.84,2.62,4.96,2.62,2.55,2.66,2.62,2.58,.8,2.43,1.52,2.32,3.95,2.34,4.23,2.21,5.04,2.24,5.56,2.2,1.09,2.13,1.29,2.04,.56,2.02,.41,1.94,5.27,1.94,5.6,1.46,4.34,1.85,4.42,1.7,4.6,1.59,.54,1.44,.69,1.38,.83,1.41,4.68,1.32,5.92,.76,2.82,2.38,3,2.17,3.3,2.29,3.6,2.2,3.38,2,3.51,1.94,3.8,1.88,3.99,1.73,3.08,1.56,3.3,1.47,3.69,1.47,3.86,1.35,4.08,1.06,4.25,.91,4.42,.82,4.6,.91,4.94,.73,5.25,.64,5.55,.53,1.99,1.7,2.13,1.59,2.34,1.79,1.78,1.47,1.56,1.23,1.65,1.11,1.35,1.17,1.13,1.06,.91,.91,.7,.82,.48,.7,.35,.56,2.93,3.7,4.16,2.91,3.76,2.67
];
const p2Excess=[
3.52,2.45,3.73,2.48,1,1.86,2.33,1.98,2.89,1.93,2.99,1.81,2.88,1.69,3.07,1.68,1.82,1.6,1.11,1.34,2.92,1.39,2.18,1.39,2.19,1.34,2.3,1.3,2.16,1.26,2.58,1.31,2.67,1.32,2.7,1.26,2.52,1.22,2.59,1.19,2.72,1.17,2.89,1.17,2.51,1.14,2.01,1.19,3.08,1.11,3.08,1.13,3.23,1.1,3.32,1.06,2.75,1.09,2.81,1.05,2.72,1.05,1.48,1.06,2.1,1.06,2.26,1.05,2.4,1.06,2.28,1,2.38,1.05,1.88,.99,1.82,.92,1.02,.87,1.08,.84,2.39,.9,2.5,.9,2.21,.88,1.82,.84,2.07,.84,2.45,.82,2.58,.85,2.31,.82,1.29,.8,1.27,.75,1.5,.76,1.34,.68,1.26,.59,1.42,.62,1.58,.63,1.6,.61,1.34,.52,1.43,.53,1.51,.57,.99,.46,1.03,.43,1,.37,1.06,.35,1,.3,1.25,.38,1.34,.43,1.39,.4,1.83,.42,1.9,.4,1.99,.31,2.12,.31,2.01,.39,2.38,.4,2.44,.35,2.56,.31,2.89,.4,3.11,.36,2.67,.59,2.52,.52,2.35,.54,2.48,.69,2.27,.63,2.03,.72,1.9,.79,2.74,.4,2.66,.66,1.02,.22,1.26,.29,2,.23,2.14,.22,2.6,.21,2.93,.3,2.47,.26,1.86,.31,3.15,.27,
1.32,.77,1.31,.74,1.39,.63,1.32,.54,1.48,.57,1.56,.74,1.64,.56,2.02,1.18,2.08,.83,2.3,.8,2.37,.46,2.41,.3,2.54,1.17,2.57,1.22,2.69,1.14,2.73,1.05,2.8,1.04,2.9,1.17,2.51,.63,2.54,.62,2.57,.83,2.71,.51,2.73,.58,2.37,.89,2.41,.88,2.39,.57
];
const p2Transition=[
2.94,.77,3.09,.77,3.32,.78,3.5,.76,3.6,.57,3.7,.4,3.15,.55,2.89,.55,2.82,.56,2.78,.39,2.75,.3,1.71,.69,1.76,.75,1.82,.76,1.97,.78,2.02,.73,2.21,.78,2.24,.7,2.34,.76,2.54,.72,2.65,.64,1.76,.55,1.87,.57,1.93,.55,2.04,.53,2.13,.5,2.21,.47,2.17,.57,2.26,.54,2.39,.6,1.61,.47,1.64,.35,1.78,.44,1.87,.41,1.98,.39,2.08,.42,2.19,.41,2.28,.44,2.26,.35,2.02,.38,1.56,.3,1.74,.35,2.48,.47,2.58,.49,2.48,.38,2.76,.53,2.15,.47,1.97,.5,1.63,.36,1.55,.3
];

// ---------- panel 3 data ----------
const p3Clean=[
-.1,-.06,-.05,-.04,.01,-.07,-.16,-.01,-.11,0,-.04,-.02,.02,.01,.07,-.01,-.21,.04,-.14,.05,-.09,.03,-.02,.05,.03,.03,.1,.05,-.24,.09,-.19,.1,-.12,.08,-.06,.1,.01,.09,.06,.11,.12,.08,-.28,.14,-.22,.15,-.17,.13,-.1,.15,-.04,.14,.03,.13,.08,.15,.14,.14,-.3,.19,-.24,.2,-.19,.18,-.13,.2,-.07,.19,-.01,.18,.05,.2,.11,.19,.17,.2,-.29,.24,-.23,.25,-.18,.23,-.11,.25,-.05,.24,.02,.23,.07,.25,.13,.24,.19,.23,-.31,.29,-.26,.3,-.2,.28,-.14,.3,-.08,.29,-.02,.28,.04,.3,.1,.29,.16,.28,.21,.3,-.3,.34,-.24,.35,-.18,.33,-.12,.35,-.06,.34,0,.33,.06,.35,.12,.34,.18,.33,-.32,.39,-.27,.4,-.21,.38,-.15,.4,-.09,.39,-.03,.38,.03,.4,.09,.39,.15,.38,.2,.4,-.29,.44,-.23,.45,-.17,.43,-.11,.45,-.05,.44,.01,.43,.07,.45,.13,.44,.19,.43,-.3,.49,-.25,.5,-.19,.48,-.13,.5,-.07,.49,-.01,.48,.05,.5,.11,.49,.17,.48,.22,.5,-.28,.54,-.22,.55,-.16,.53,-.1,.55,-.04,.54,.02,.53,.08,.55,.14,.54,.2,.53,-.27,.59,-.21,.6,-.15,.58,-.09,.6,-.03,.59,.03,.58,.09,.6,.15,.59,.21,.58,-.25,.64,-.19,.65,-.13,.63,-.07,.65,-.01,.64,.05,.63,.11,.65,.17,.64,-.23,.69,-.17,.7,-.11,.68,-.05,.7,.01,.69,.07,.68,.13,.7,.19,.69,-.2,.74,-.14,.75,-.08,.73,-.02,.75,.04,.74,.1,.73,.16,.75,-.16,.79,-.1,.8,-.04,.78,.02,.8,.08,.79,.14,.78,-.12,.84,-.06,.85,0,.83,.06,.85,.11,.84,-.07,.89,0,.9,.06,.88,
-.13,.02,-.07,.01,-.01,.02,.05,.02,-.18,.07,-.12,.06,-.06,.07,0,.06,.06,.07,.11,.06,-.21,.12,-.15,.11,-.09,.12,-.03,.11,.03,.12,.09,.11,.15,.12,-.25,.17,-.19,.16,-.13,.17,-.07,.16,-.01,.17,.05,.16,.11,.17,.17,.16,-.27,.22,-.21,.21,-.15,.22,-.09,.21,-.03,.22,.03,.21,.09,.22,.15,.21,-.26,.27,-.2,.26,-.14,.27,-.08,.26,-.02,.27,.04,.26,.1,.27,.16,.26,-.28,.32,-.22,.31,-.16,.32,-.1,.31,-.04,.32,.02,.31,.08,.32,.14,.31,.19,.32,-.27,.37,-.21,.36,-.15,.37,-.09,.36,-.03,.37,.03,.36,.09,.37,.15,.36,-.29,.42,-.23,.41,-.17,.42,-.11,.41,-.05,.42,.01,.41,.07,.42,.13,.41,.18,.42,-.26,.47,-.2,.46,-.14,.47,-.08,.46,-.02,.47,.04,.46,.1,.47,.16,.46,-.27,.52,-.21,.51,-.15,.52,-.09,.51,-.03,.52,.03,.51,.09,.52,.15,.51,.2,.52,-.25,.57,-.19,.56,-.13,.57,-.07,.56,-.01,.57,.05,.56,.11,.57,.17,.56,-.24,.62,-.18,.61,-.12,.62,-.06,.61,0,.62,.06,.61,.12,.62,.18,.61,-.22,.67,-.16,.66,-.1,.67,-.04,.66,.02,.67,.08,.66,.14,.67,-.2,.72,-.14,.71,-.08,.72,-.02,.71,.04,.72,.1,.71,.16,.72,-.17,.77,-.11,.76,-.05,.77,.01,.76,.07,.77,.13,.76,-.13,.82,-.07,.81,-.01,.82,.05,.81,.11,.82,
-.26,.2,-.2,.23,-.14,.19,-.08,.22,-.02,.21,.04,.23,.1,.21,.16,.22,-.28,.35,-.22,.38,-.16,.35,-.1,.37,-.04,.36,.02,.38,.08,.35,.14,.37,-.27,.5,-.21,.53,-.15,.5,-.09,.52,-.03,.51,.03,.53,.09,.5,.15,.52,-.25,.65,-.19,.68,-.13,.65,-.07,.67,-.01,.66,.05,.68,.11,.65,-.22,.08,-.16,.1,-.1,.07,-.04,.09,.02,.08,.08,.1,-.18,.78,-.12,.8,-.06,.79,0,.77,.06,.8,-.29,.27,-.23,.29,-.17,.27,-.11,.28,-.05,.27,.01,.29,.07,.28,.13,.27,.18,.28,-.29,.44,-.23,.47,-.17,.44,-.11,.46,-.05,.45,.01,.47,.07,.44,.13,.46,.19,.45,-.26,.58,-.2,.6,-.14,.57,-.08,.59,-.02,.58,.04,.6,.1,.57,.16,.59,
-.33,.1,-.35,.22,-.34,.35,-.36,.48,-.33,.6,-.35,.7,-.38,.3,-.4,.15,-.42,.42,-.39,.55,-.41,.8,-.45,.25,-.47,.5,-.44,.65,-.5,.35,-.52,.08,-.48,.9,-.55,.6,-.58,.2,-.36,.92,-.32,.82,-.37,.02,-.3,-.05,-.28,.75,-.31,.68,-.33,.45,-.34,.14,
-.22,-.05,-.15,-.08,-.08,-.12,-.02,-.1,.04,-.06,.1,-.04,-.18,-.15,-.05,-.18,.06,-.15,.14,-.1,-.1,-.22,.02,-.26,-.25,-.12,.18,-.18,
-.2,.85,-.15,.92,-.08,.95,.02,.92,.12,.88,.18,.95,-.12,1.02,.05,1,.15,1.05,.22,1.1,-.05,1.08,.1,1.15,.25,1.2,-.18,1.12,.3,1.28,0,1.22,.18,1.3,.35,1.35,.08,1.38,-.1,1.25,.28,1.42,.4,1.48,.45,1.55,.52,1.6,.35,1.52,-.25,1,.2,1.2,.32,1.15,.4,1.25,.42,1.38,
.22,.05,.24,.15,.23,.28,.25,.4,.22,.52,.24,.62,.23,.75,.25,.85,.27,.1,.28,.22,.29,.35,.27,.47,.3,.58,.28,.7,.3,.8,.32,.92,.31,.05,.33,.18,.32,.3,.34,.44,.36,.56,.35,.68,.37,.78,.39,.9,.4,1.02,.43,.96,.36,.12,.38,.25,.41,.03,.2,.34,.21,.66,.26,.95,.3,1.05,.45,1.1,.48,1.2,.5,1.3,.55,1.42,.6,1.5,.46,0,.5,-.05,
-.88,.11,-.84,.42,-.81,-.4,-.61,.83,-.53,1.01,-.01,-.27,.15,-.27,.17,-.37,.36,-.37,.38,-.61,.1,-.63,.8,-.52,.99,-.74,1.43,-.16,1.58,.08,1.74,.2,1.26,.05,.75,2.51,.69,1.82,.55,1.62,.37,1.59,.27,1.41,.08,1.39,-.12,1.39,-.28,1.03,-.82,.7,-.71,.32,-.81,.17,-.44,-.03,-.31,-.11,.08,-.18,.34,-.17,.8,.01,1.25,.05,1.78,.98,2,.69,1.66,1.73,-.65,.5,-.7,.05,-.6,-.15,-.45,1.2,.2,1.62,.62,1.75,.45,1.85,.85,-.2,1.1,-.05,.6,-.15,.7,-.05,1,.02,.28,-.45,-.2,-.42,1.55,.55,1.3,.7,1.9,1.35,2.1,1.6,1.45,1.95
];
const p3Excess=[
2.65,3.76,2.82,2.84,2.29,2.71,1.9,2.6,1.16,2.58,1.09,2.36,2.11,2.41,1.87,2.39,1.89,2.3,1.9,2.24,1.97,2.33,2.21,2.12,2.24,1.98,2.22,1.89,1.93,2.03,1.94,2,1.87,1.95,1.17,2.12,1.27,2.13,1.34,2.12,1.24,2.06,1.29,2.04,1.35,2.07,.97,1.92,1.32,1.96,1.2,1.9,1.19,1.87,.94,1.84,1.44,1.9,1.6,1.92,1.62,1.89,1.73,1.87,1.1,1.79,1.17,1.75,1.22,1.72,1.27,1.76,1.3,1.78,1.38,1.8,1.41,1.79,1.35,1.72,1.41,1.69,1.55,1.66,1.81,1.66,.84,1.69,.74,1.63,.97,1.67,.91,1.6,.88,1.61,1.04,1.64,1.06,1.56,1.14,1.64,1.17,1.57,1.24,1.64,1.32,1.63,1.27,1.56,1.6,1.52,1.7,1.53,1.75,1.57,1.8,1.52,1.98,1.5,1.45,1.42,1.46,1.35,1.33,1.4,1.33,1.5,1.37,1.5,.77,1.52,.69,1.41,.79,1.41,.65,1.31,.72,1.29,.87,1.41,.98,1.45,1.01,1.41,1.09,1.48,1.14,1.44,1.2,1.42,1.25,1.47,1.7,1.42,1.72,1.34,1.63,1.29,1.57,1.16,1.57,1.07,1.59,1.03,1.7,.99,1.34,1.13,1.33,1.1,1.25,.98,1.39,1,1.38,.95,1.48,1.25,1.47,1.2,2.48,.99,1.98,.87,2.03,.79,2.17,.76,2.38,.67,1.72,.81,1.6,.84,1.57,.76,1.52,.68,1.42,.71,1.61,.62,1.27,.75,1.27,.48,1.35,.5,1.27,.41,1.38,.35,1.49,.35,2.01,.5,2.13,.39,1.72,.28,1.07,.16,1.06,.26,1.06,.33,1.05,.47,.97,.44,.95,.17,.95,.13,.88,.3,.83,.26,.72,.14,.59,.04,.56,.11,.54,.2,.48,.14,
1.26,.97,1.36,.99,1.39,.88,1.35,.83,1.27,.75,1.15,.82,1.11,.72,1.04,.63,.98,.44,1.06,.47,1.07,.3,1.1,.16,.96,.14,.94,.11,.87,.25,.89,.29,.72,.13,.59,.04,.57,.09,.53,.13,.45,.14,.4,.2,.36,.32,
.5,.06,.56,.07,.62,.05,.44,.12,.5,.11,.56,.13,.63,.1,.7,.12,.41,.18,.47,.17,.53,.19,.59,.16,.66,.18,.73,.17,.8,.19,.38,.24,.44,.23,.5,.25,.56,.22,.62,.24,.69,.23,.76,.25,.84,.22,.35,.3,.41,.29,.47,.31,.53,.28,.6,.3,.66,.32,.73,.29,.8,.31,.88,.28,.36,.36,.42,.35,.48,.37,.54,.34,.6,.36,.67,.38,.74,.35,.82,.37,.92,.34,.37,.42,.43,.41,.49,.43,.55,.4,.62,.42,.69,.44,.77,.41,.86,.43,.95,.4,.36,.48,.42,.47,.48,.49,.54,.46,.6,.48,.66,.5,.73,.47,.8,.49,.89,.46,1,.48,.38,.54,.44,.53,.5,.55,.56,.52,.62,.54,.69,.56,.76,.53,.84,.55,.93,.52,.39,.6,.45,.59,.51,.61,.57,.58,.63,.6,.7,.62,.78,.59,.87,.61,.97,.58,1.06,.6,.4,.66,.46,.65,.52,.67,.58,.64,.64,.66,.71,.68,.8,.65,.9,.67,1.02,.64,.41,.72,.47,.71,.53,.73,.59,.7,.65,.72,.72,.74,.8,.71,.88,.73,.98,.7,1.1,.72,.43,.78,.49,.77,.55,.79,.61,.76,.67,.78,.74,.8,.83,.77,.93,.79,.44,.84,.5,.83,.56,.85,.62,.82,.68,.84,.76,.86,.85,.83,.96,.85,1.08,.82,.46,.9,.52,.89,.58,.91,.64,.88,.7,.9,.78,.92,.88,.89,1,.91,.48,.96,.54,.95,.6,.97,.66,.94,.73,.96,.82,.98,.94,.95,1.1,.97,.51,1.02,.57,1.01,.63,1.03,.7,1,.78,1.02,.88,1.04,1,1.01,.53,1.08,.59,1.07,.66,1.09,.74,1.06,.84,1.08,.96,1.1,1.15,1.07,.56,1.14,.62,1.13,.69,1.15,.78,1.12,.9,1.14,1.05,1.16,.58,1.2,.65,1.19,.73,1.21,.84,1.18,.97,1.22,.61,1.26,.68,1.25,.77,1.27,.9,1.24,1.12,1.28,.64,1.32,.72,1.31,.82,1.33,
.47,.15,.53,.14,.6,.16,.67,.15,.44,.21,.5,.2,.56,.22,.63,.21,.7,.2,.77,.22,.41,.27,.47,.26,.53,.28,.59,.27,.66,.26,.73,.28,.81,.27,.38,.33,.44,.32,.5,.34,.57,.33,.63,.32,.7,.34,.78,.33,.86,.32,.39,.39,.45,.38,.51,.4,.58,.39,.64,.38,.71,.4,.79,.39,.88,.38,.4,.45,.46,.44,.52,.46,.59,.45,.65,.44,.73,.46,.81,.45,.91,.44,.39,.51,.45,.5,.51,.52,.57,.51,.63,.5,.7,.52,.77,.51,.85,.5,.95,.52,.41,.57,.47,.56,.53,.58,.59,.57,.65,.56,.72,.58,.8,.57,.89,.56,.42,.63,.48,.62,.54,.64,.6,.63,.67,.62,.74,.64,.83,.63,.93,.62,.43,.69,.49,.68,.55,.7,.61,.69,.68,.68,.76,.7,.85,.69,.95,.68,.44,.75,.5,.74,.56,.76,.63,.75,.7,.74,.78,.76,.87,.75,.46,.81,.52,.8,.58,.82,.65,.81,.72,.8,.8,.82,.9,.81,.48,.87,.54,.86,.6,.88,.67,.87,.74,.86,.83,.88,.93,.87,.5,.93,.56,.92,.62,.94,.69,.93,.77,.92,.87,.94,.52,.99,.58,.98,.65,1,.73,.99,.82,.98,.93,1,.55,1.05,.61,1.04,.69,1.06,.78,1.05,.89,1.04,.57,1.11,.64,1.1,.72,1.12,.82,1.11,.6,1.17,.67,1.16,.76,1.18,.88,1.17,.63,1.23,.71,1.22,.81,1.24
];

// ---------- layout / style ----------
const W=2700,H=750,TOP=90,BOTTOM=656;
const FONT='"DejaVu Sans", sans-serif';
const COL={clean:"#a9a9a9",excess:"#dc143c",light:"#f08080"};
const yDomain=[-1,4];
const CLEAN_R=1.75, BIG_R=4.2;
const panels=[
 {left:337,right:953,xd:[-1,7],xt:p1XTicks,lab:labels1,ls:36,xlb:736,ylx:261,
  series:[{name:names1[0],d:p1Clean,c:COL.clean,r:CLEAN_R},{name:names1[1],d:p1Excess,c:COL.excess,r:BIG_R},{name:names1[2],d:p1Proto,c:COL.light,r:BIG_R}]},
 {left:1076,right:1692,xd:[-2,6],xt:p2XTicks,lab:labels2,ls:41,xlb:740,ylx:998,
  series:[{name:names2[0],d:p2Clean,c:COL.clean,r:CLEAN_R},{name:names2[1],d:p2Excess,c:COL.excess,r:BIG_R},{name:names2[2],d:p2Transition,c:COL.light,r:BIG_R}]},
 {left:1814,right:2431,xd:[-1,4],xt:p3XTicks,lab:labels3,ls:41,xlb:740,ylx:1736,
  series:[{name:names3[0],d:p3Clean,c:COL.clean,r:CLEAN_R},{name:names3[1],d:p3Excess,c:COL.excess,r:BIG_R}]}
];
const toPairs=a=>d3.range(0,a.length-1,2).map(i=>[a[i],a[i+1]]);
const svg=d3.select("#c");
svg.append("rect").attr("width",W).attr("height",H).attr("fill","#fff");
const defs=svg.append("defs");

panels.forEach((p,i)=>{
  const x=d3.scaleLinear().domain(p.xd).range([p.left,p.right]);
  const y=d3.scaleLinear().domain(yDomain).range([BOTTOM,TOP]);
  defs.append("clipPath").attr("id","clip"+i).append("rect")
    .attr("x",p.left).attr("y",TOP).attr("width",p.right-p.left).attr("height",BOTTOM-TOP);
  const g=svg.append("g");
  const pg=g.append("g").attr("clip-path",`url(#clip${i})`);
  p.series.forEach(s=>{
    pg.append("g").selectAll("circle").data(toPairs(s.d)).join("circle")
      .attr("cx",d=>x(d[0])).attr("cy",d=>y(d[1])).attr("r",s.r).attr("fill",s.c);
  });
  const xa=g.append("g").attr("transform",`translate(0,${BOTTOM})`)
    .call(d3.axisBottom(x).tickValues(p.xt).tickFormat(d3.format("d")).tickSize(7).tickSizeOuter(0));
  const ya=g.append("g").attr("transform",`translate(${p.left},0)`)
    .call(d3.axisLeft(y).tickValues(yTicks).tickFormat(d3.format("d")).tickSize(7).tickPadding(9).tickSizeOuter(0));
  [xa,ya].forEach(a=>{
    a.select(".domain").remove();
    a.attr("font-size",30).attr("font-family",FONT);
    a.selectAll(".tick line").attr("stroke","#000").attr("stroke-width",1.3);
    a.selectAll(".tick text").attr("fill","#000");
  });
  xa.selectAll(".tick text").attr("y",38).attr("dy",null);
  ya.selectAll(".tick text").attr("dy","0.36em");
  g.append("rect").attr("x",p.left).attr("y",TOP).attr("width",p.right-p.left).attr("height",BOTTOM-TOP)
    .attr("fill","none").attr("stroke","#000").attr("stroke-width",1.3);
  g.append("text").attr("x",(p.left+p.right)/2).attr("y",p.xlb).attr("text-anchor","middle")
    .attr("font-family",FONT).attr("font-size",p.ls).attr("fill","#000").text(p.lab.x);
  g.append("text").attr("transform",`translate(${p.ylx},${(TOP+BOTTOM)/2}) rotate(-90)`).attr("text-anchor","middle")
    .attr("font-family",FONT).attr("font-size",p.ls).attr("fill","#000").text(p.lab.y);
  const bx=p.left+16, by=TOP+16, rowH=46;
  const lg=g.append("g");
  const box=lg.append("rect").attr("x",bx).attr("y",by).attr("rx",5).attr("ry",5)
    .attr("height",p.series.length*rowH+8.5).attr("fill","#fff").attr("fill-opacity",0.8)
    .attr("stroke","#cccccc").attr("stroke-width",1.2);
  let maxW=0;
  p.series.forEach((s,k)=>{
    const cy=by+25+k*rowH;
    lg.append("circle").attr("cx",bx+44).attr("cy",cy).attr("r",s.r<2?1.1:4.1).attr("fill",s.c);
    const t=lg.append("text").attr("x",bx+101).attr("y",cy+11).attr("font-family",FONT)
      .attr("font-size",30).attr("fill","#000").text(s.name);
    maxW=Math.max(maxW,t.node().getComputedTextLength());
  });
  box.attr("width",101+maxW+15);
});
</script></body></html>
